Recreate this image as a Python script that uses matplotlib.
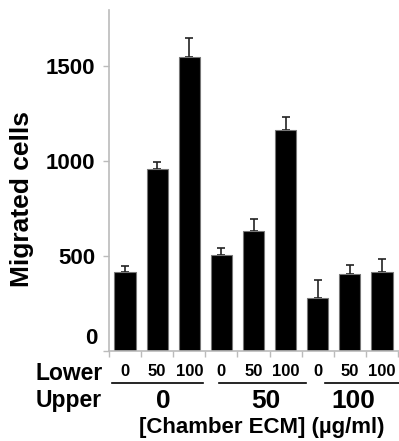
import matplotlib
matplotlib.use("Agg")
import matplotlib.pyplot as plt
import numpy as np

upper_groups = ["0", "50", "100"]
lower_levels = ["0", "50", "100"]
cells = [415, 960, 1550, 505, 630, 1165, 280, 405, 415]
errors = [35, 35, 100, 35, 65, 65, 95, 50, 70]

plt.rcParams["font.family"] = ["Liberation Sans", "DejaVu Sans"]
plt.rcParams["font.weight"] = "bold"

W, H = 399, 441
fig = plt.figure(figsize=(W / 100, H / 100), dpi=100)
ax = fig.add_axes([109 / W, 1 - 351 / H, 290 / W, 341 / H])

x = np.arange(len(cells))
ax.bar(x, cells, width=0.66, color="black", edgecolor="#777777", linewidth=0.8, zorder=2)
ax.errorbar(x, cells, yerr=[np.zeros(len(errors)), errors], fmt="none",
            ecolor="#222222", elinewidth=1.2, capsize=3, capthick=1.2, zorder=1)

ax.set_xlim(-0.5, len(cells) - 0.5 + 0.03)
ax.set_ylim(0, 1795)
ax.set_yticks([0, 500, 1000, 1500])
# the "0" label sits a bit above its tick in the original, drawn separately below
ax.set_yticklabels(["", "500", "1000", "1500"], fontsize=16, fontweight="bold")
ax.set_xticks(np.arange(-0.5, len(cells), 1.0))
ax.set_xticklabels([])
ax.tick_params(axis="x", direction="out", length=4, color="#bbbbbb", width=1)
ax.tick_params(axis="y", direction="out", length=4, color="#bbbbbb", width=1, pad=6)
for side in ("top", "right"):
    ax.spines[side].set_visible(False)
for side in ("left", "bottom"):
    ax.spines[side].set_color("#bbbbbb")
    ax.spines[side].set_linewidth(1.2)

ax.set_ylabel("Migrated cells", fontsize=19, fontweight="bold")
ax.yaxis.set_label_coords(-(109 - 34) / 290, 0.445)


def fy(px):
    return 1 - px / H


fig.text(98 / W, fy(338), "0", ha="right", va="center", fontsize=16, fontweight="bold")

tr = matplotlib.transforms.blended_transform_factory(ax.transData, fig.transFigure)

# lower chamber labels
for i in range(len(cells)):
    ax.text(x[i], fy(372), lower_levels[i % 3], transform=tr, ha="center", va="center",
            fontsize=12, fontweight="bold")
fig.text(103 / W, fy(373), "Lower", ha="right", va="center", fontsize=16.5, fontweight="bold")

# group lines and upper chamber labels
spans = [(-0.41, 2.44), (2.91, 5.63), (6.22, 8.6)]
label_x = [1.19, 4.38, 7.12]
for (a, b), lx, g in zip(spans, label_x, upper_groups):
    ax.plot([a, b], [fy(383), fy(383)], transform=tr, color="black", lw=1.2, clip_on=False)
    ax.text(lx, fy(401), g, transform=tr, ha="center", va="center", fontsize=19, fontweight="bold")
fig.text(102 / W, fy(401), "Upper", ha="right", va="center", fontsize=16.5, fontweight="bold")

fig.text(262 / W, fy(428), "[Chamber ECM] (µg/ml)", ha="center", va="center",
         fontsize=16, fontweight="bold")

fig.savefig("out.png", dpi=100)
